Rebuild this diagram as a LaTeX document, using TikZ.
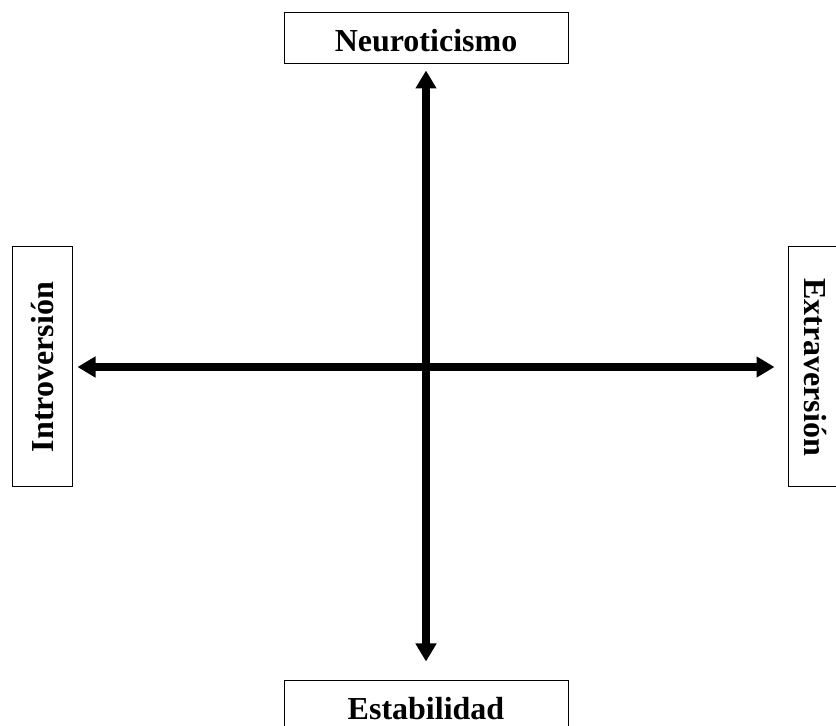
\documentclass[tikz,border=0pt]{standalone}
\usepackage{fontspec}
\setmainfont{Liberation Serif}
\usetikzlibrary{arrows.meta}

\begin{document}
\begin{tikzpicture}[x=1pt, y=1pt,
    dimbox/.style={draw, line width=1pt, inner sep=0pt, text height=27pt, text depth=0pt,
        font=\fontsize{32}{38}\selectfont\bfseries},
    axis/.style={line width=7.5pt, {Triangle[width=20pt,length=18pt]}-{Triangle[width=20pt,length=18pt]}}]

        \useasboundingbox (0,0) rectangle (836,726);

        % ------------------ Dimensions ------------------

        % Vertical
        \node[dimbox, minimum width=284pt, minimum height=51pt] (neuro) at (426,687.5) {Neuroticismo};
        \node[dimbox, minimum width=284pt, minimum height=51pt] (estab) at (426,19.5) {Estabilidad};

        % Horizontal
        \node[dimbox, text height=23pt, rotate=90, minimum width=240pt, minimum height=60pt] (intro) at (42,359) {Introversión};
        \node[dimbox, text height=23pt, rotate=-90, minimum width=240pt, minimum height=56pt] (extra) at (816,359) {Extraversión};

        % ------------------ Axes ------------------

        \draw[axis, shorten <=6pt, shorten >=19pt] (neuro) -- (estab);
        \draw[axis, shorten <=5pt, shorten >=13pt] (intro) -- (extra);

    \end{tikzpicture}
\end{document}
